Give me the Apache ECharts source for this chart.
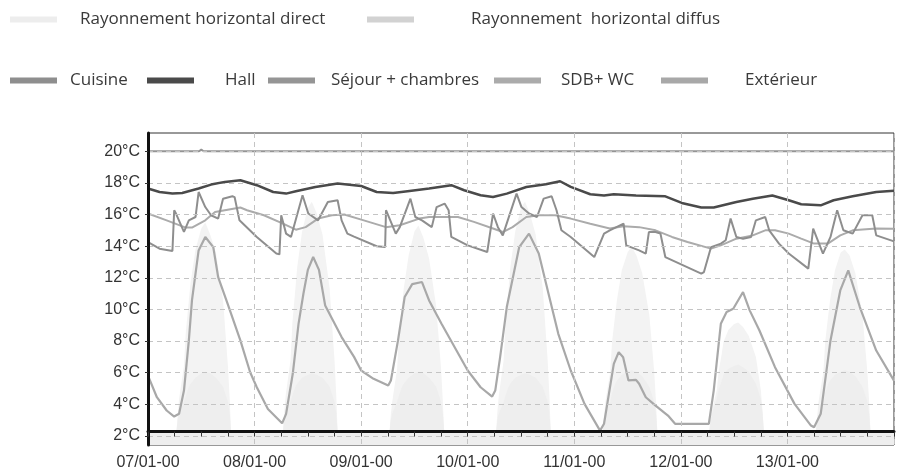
<!DOCTYPE html>
<html><head><meta charset="utf-8">
<script src="https://cdn.jsdelivr.net/npm/echarts@6/dist/echarts.min.js"></script>
<style>html,body{margin:0;padding:0;background:#fff}#c{width:897px;height:475px}</style>
</head><body><div id="c"></div><script>
// ---- data (x in hours since 07/01 00:00, y in °C) ----
const xTickLabels = ['07/01-00','08/01-00','09/01-00','10/01-00','11/01-00','12/01-00','13/01-00'];
const yTickValues = [2,4,6,8,10,12,14,16,18,20];

const hall = [[0,17.64],[2.6,17.42],[5.5,17.32],[7.7,17.36],[11.4,17.64],[14.2,17.89],[17.3,18.06],[20.8,18.16],[24.5,17.85],[28.2,17.42],[31.1,17.32],[33.3,17.47],[37.7,17.74],[42.7,17.96],[48,17.8],[51.5,17.42],[55.2,17.36],[58.9,17.49],[63.3,17.64],[68.3,17.85],[71.2,17.53],[74.9,17.22],[77.7,17.1],[80.8,17.32],[85.2,17.74],[89.6,17.91],[92.8,18.1],[95.2,17.74],[99.6,17.28],[102.7,17.2],[104.9,17.28],[109.9,17.2],[116.5,17.15],[120.2,16.73],[124.6,16.44],[127.4,16.44],[132.5,16.79],[136.2,17.0],[140.6,17.2],[144.3,16.9],[147.1,16.65],[151.5,16.58],[154.4,16.9],[158.7,17.15],[164,17.42],[168,17.5]];

const sejour = [[0,20],[11.5,20],[12,20.1],[12.5,20],[168,20]];

const cuisine = [[0,14.26],[2.6,13.84],[5.5,13.69],[5.9,16.27],[6.3,16.06],[8.1,14.9],[9.2,15.63],[10.7,15.84],[11.4,17.42],[12.9,16.47],[14.2,15.95],[15.8,15.74],[16.9,17.0],[19.0,17.15],[19.5,17.1],[20.6,15.63],[24.5,14.58],[28.9,13.53],[29.6,13.48],[30.0,15.95],[31.1,14.79],[32.2,14.58],[34.8,17.22],[36.1,16.06],[38.3,15.63],[40.5,16.79],[42.7,16.9],[43.6,15.63],[44.9,14.79],[46.4,14.6],[51.5,13.99],[53.4,13.94],[53.6,16.27],[55.8,14.79],[56.7,15.2],[59.1,17.0],[60.2,15.84],[61.7,15.63],[63.9,15.2],[65.0,16.47],[66.8,16.69],[67.7,16.27],[68.3,14.58],[72.0,14.05],[76.4,13.63],[76.6,13.56],[77.7,16.06],[78.8,15.2],[79.9,14.68],[83.0,17.32],[84.1,16.47],[85.8,16.06],[87.6,15.84],[89.1,17.0],[90.9,17.15],[92.0,16.27],[93.1,15.0],[95.2,14.58],[100.5,13.31],[102.7,14.79],[104.0,15.0],[107.1,15.42],[107.7,14.05],[110.6,13.73],[112.1,13.53],[112.8,14.89],[114.3,14.89],[115.4,14.8],[116.5,13.31],[124.6,12.26],[125.2,12.36],[126.8,13.94],[129.0,14.16],[130.1,14.37],[131.2,15.74],[132.5,14.58],[134.0,14.47],[135.8,14.58],[136.9,15.63],[139.0,15.84],[139.9,15.0],[142.1,14.16],[144.3,13.53],[148.7,12.58],[148.9,12.68],[149.8,15.11],[152.0,13.53],[153.7,14.58],[155.2,16.27],[156.6,15.0],[158.7,14.79],[160.9,15.95],[163.1,15.95],[164.0,14.68],[168,14.3]];

const sdbwc = [[0,16.06],[4.2,15.63],[8.5,15.17],[9.9,15.17],[12.9,15.63],[15.1,16.16],[17.3,16.27],[20.8,16.44],[22.3,16.27],[26.1,15.95],[30.4,15.42],[33.3,15.04],[35.5,15.2],[38.3,15.74],[41.4,15.95],[44.2,16.0],[48.6,15.63],[53.6,15.2],[56.7,15.32],[61.1,15.74],[63.3,15.84],[69.8,15.84],[73.4,15.53],[77.7,15.11],[79.9,14.89],[82.1,15.2],[85.2,15.84],[88.0,15.95],[91.7,15.95],[95.2,15.74],[99.6,15.42],[104.0,15.11],[107.1,15.25],[110.6,15.2],[114.3,15.0],[118.0,14.58],[121.5,14.26],[126.8,13.84],[129.0,14.05],[132.5,14.47],[136.2,14.68],[139.0,15.0],[141.2,15.0],[144.3,14.79],[147.1,14.47],[150.0,14.16],[153.1,14.16],[155.9,14.68],[158.7,15.0],[164,15.11],[168,15.1]];

const exterieur = [[0,5.82],[2,4.45],[4.2,3.61],[5.9,3.23],[7,3.4],[8.1,4.87],[9.2,8.04],[9.9,10.57],[11.4,13.73],[12.9,14.58],[14.7,13.94],[15.8,12.04],[18,10.3],[20.8,8.04],[23,6.03],[24.5,5.08],[27,3.7],[30.2,2.8],[31.1,3.4],[32.6,5.93],[33.9,9.09],[35,10.99],[36,12.5],[37.2,13.31],[38.5,12.5],[39.9,10.25],[43.6,8.25],[46.4,7.0],[48,6.14],[50.8,5.61],[54.1,5.19],[54.7,5.51],[56.3,8.04],[57.8,10.78],[59.5,11.6],[61.7,11.73],[63.3,10.57],[66.1,9.09],[72,6.14],[74.9,5.08],[77.5,4.49],[78.2,4.87],[79.3,6.98],[80.8,10.15],[83.6,13.94],[85.8,14.79],[88,13.53],[90.2,10.99],[92.4,8.46],[95.2,6.14],[98.3,4.03],[101.8,2.34],[102.7,2.77],[104.9,6.56],[106,7.3],[107,6.98],[108.2,5.51],[109.9,5.55],[110.6,5.3],[112.1,4.45],[114.3,3.92],[117.1,3.29],[118.7,2.77],[126.3,2.77],[127.4,4.87],[129,9.09],[130.3,9.83],[131.8,10.04],[134,11.1],[135.5,9.94],[137.7,8.67],[141.2,6.35],[145.6,4.03],[149.3,2.66],[150,2.55],[151.5,3.4],[153.7,8.04],[155.9,11.2],[157.7,12.47],[160.3,10.15],[164,7.4],[168,5.5]];

// radiation (W/m², hidden axis); hours of day and one row of values per day
const radHours = [6.4,6.7,7,8.1,8.5,9.2,9.6,10.7,12,12.9,14,15.3,16.9,18,18.4,18.7];
const radDirectDays = [
  [0,60,110,220,330,440,500,610,680,700,660,600,440,220,110,0],
  [0,70,120,240,360,480,550,670,750,770,730,660,480,240,120,0],
  [0,60,100,210,320,420,480,590,670,690,650,580,420,210,100,0],
  [0,70,120,240,360,480,550,670,750,770,730,660,480,240,120,0],
  [0,50,100,200,300,390,440,540,600,620,590,530,390,200,100,0],
  [0,40,70,140,200,260,300,340,360,365,350,320,250,140,70,0],
  [0,50,100,200,300,390,440,540,600,610,590,530,390,200,100,0]
];
const radDiffusDays = [
  [0,40,60,100,120,150,160,180,195,200,195,180,150,100,60,0],
  [0,40,60,100,120,150,160,180,190,195,190,180,150,100,60,0],
  [0,40,60,100,120,150,160,180,195,200,195,180,150,100,60,0],
  [0,40,60,100,120,150,160,180,190,195,190,180,150,100,60,0],
  [0,40,60,100,130,160,170,190,200,205,200,185,150,100,60,0],
  [0,40,60,110,140,170,190,210,220,225,215,200,160,110,60,0],
  [0,40,60,100,130,160,170,190,200,205,200,185,150,100,60,0]
];

function buildRad(days){
  const out = [[0,0]];
  days.forEach((vals,d)=>{ radHours.forEach((h,i)=>out.push([d*24+h, vals[i]])); });
  out.push([168,0]);
  return out;
}

const chart = echarts.init(document.getElementById('c'), null, {renderer:'canvas'});
const legText = {fontFamily:'Open Sans', fontSize:17, color:'#3a3a3a'};
function leg(name, left, top, pad){
  return {data:[name], left:left, top:top, padding:0, itemWidth:47, itemHeight:6, icon:'rect',
    selectedMode:false, textStyle:Object.assign({padding:[0,0,0,pad]}, legText)};
}
function lineSeries(name, data, color, width, z){
  return {name:name, type:'line', data:data, symbol:'none', showSymbol:false,
    lineStyle:{color:color, width:width}, itemStyle:{color:color}, z:z, silent:true};
}

chart.setOption({
  animation:false,
  backgroundColor:'#fff',
  legend:[
    leg('Rayonnement horizontal direct', 10, 11, 18),
    leg('Rayonnement  horizontal diffus', 367, 11, 52),
    leg('Cuisine', 10, 72, 8),
    leg('Hall', 147, 72, 26),
    leg('Séjour + chambres', 268, 72, 11),
    leg('SDB+ WC', 494, 72, 15),
    leg('Extérieur', 661, 72, 32)
  ],
  grid:{left:148, top:133, width:767, height:312, show:true, borderColor:'#333', borderWidth:1, backgroundColor:'transparent'},
  xAxis:{type:'value', min:0, max:168, interval:24, z:10,
    axisLine:{show:true, lineStyle:{color:'#111', width:3}},
    axisTick:{show:true, length:5, lineStyle:{color:'#333', width:1}},
    minorTick:{show:true, splitNumber:4, length:5, lineStyle:{color:'#333', width:1}},
    splitLine:{show:true, lineStyle:{color:'#c4c4c4', width:1, type:[5,4]}},
    axisLabel:{margin:10, fontFamily:'Liberation Sans', fontSize:16, color:'#333',
      formatter:function(v){ return xTickLabels[Math.round(v/24)] || ''; }}
  },
  yAxis:[
    {type:'value', min:1.43, max:21.15, z:10,
      axisLine:{show:true, lineStyle:{color:'#111', width:3}},
      axisTick:{show:true, length:3, customValues:yTickValues, lineStyle:{color:'#333'}},
      splitLine:{show:false},
      axisLabel:{customValues:yTickValues, margin:8, fontFamily:'Liberation Sans', fontSize:16, color:'#333',
        formatter:function(v){ return v + '°C'; }}
    },
    {type:'value', min:-45, max:1000, show:false, splitLine:{show:false}}
  ],
  series:[
    {name:'grid', type:'line', data:[], z:1, silent:true,
      markLine:{silent:true, symbol:'none', label:{show:false}, animation:false,
        lineStyle:{color:'#c4c4c4', width:1, type:[5,4]},
        data:yTickValues.map(v=>({yAxis:v}))}},
    {name:'Rayonnement horizontal direct', type:'line', yAxisIndex:1, data:buildRad(radDirectDays),
      symbol:'none', lineStyle:{width:0}, itemStyle:{color:'#ededed'},
      areaStyle:{color:'#f3f3f3', opacity:1, origin:'start'}, z:2, silent:true},
    {name:'Rayonnement  horizontal diffus', type:'line', yAxisIndex:1, data:buildRad(radDiffusDays),
      symbol:'none', lineStyle:{width:0}, itemStyle:{color:'#d2d2d2'},
      areaStyle:{color:'#eeeeee', opacity:1, origin:'start'}, z:2, silent:true},
    lineSeries('Extérieur', exterieur, '#a8a8a8', 2.2, 3),
    lineSeries('SDB+ WC', sdbwc, '#ababab', 2, 3),
    lineSeries('Cuisine', cuisine, '#8e8e8e', 2, 4),
    lineSeries('Séjour + chambres', sejour, '#959595', 2, 4),
    lineSeries('Hall', hall, '#4a4a4a', 2.5, 5)
  ]
});
</script></body></html>
